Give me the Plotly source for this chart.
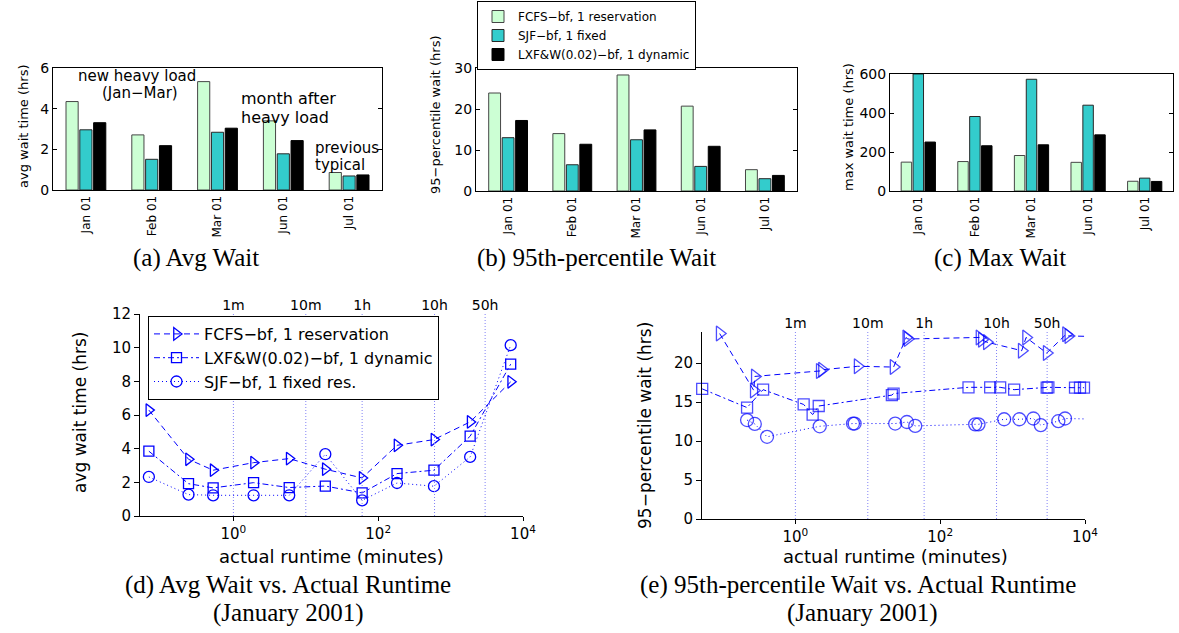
import plotly.graph_objects as go

W, H = 1179, 633

# ---------------- data ----------------
months = ["Jan 01", "Feb 01", "Mar 01", "Jun 01", "Jul 01"]
bar_names = ["FCFS\u2212bf, 1 reservation", "SJF\u2212bf, 1 fixed", "LXF&W(0.02)\u2212bf, 1 dynamic"]

avg_fcfs = [4.35, 2.71, 5.33, 3.40, 0.86]
avg_sjf = [2.96, 1.51, 2.84, 1.78, 0.69]
avg_lxf = [3.31, 2.18, 3.04, 2.43, 0.74]

p95_fcfs = [23.9, 14.0, 28.3, 20.7, 5.2]
p95_sjf = [13.0, 6.4, 12.5, 6.0, 3.0]
p95_lxf = [17.2, 11.4, 14.9, 10.9, 3.8]

max_fcfs = [148, 151, 182, 147, 50]
max_sjf = [600, 382, 573, 440, 66]
max_lxf = [251, 232, 237, 288, 49]

line_names = ["FCFS\u2212bf, 1 reservation", "LXF&W(0.02)\u2212bf, 1 dynamic", "SJF\u2212bf, 1 fixed res."]

# (d) avg wait vs actual runtime (minutes)
d_runtime = [0.068, 0.24, 0.525, 1.9, 5.9, 18.6, 60, 182, 589, 1862, 6760]
d_fcfs = [6.29, 3.37, 2.72, 3.17, 3.41, 2.78, 2.26, 4.20, 4.54, 5.59, 7.97]
d_lxf = [3.85, 1.92, 1.67, 1.98, 1.69, 1.78, 1.37, 2.52, 2.72, 4.74, 9.02]
d_sjf = [2.32, 1.27, 1.23, 1.23, 1.23, 3.67, 0.93, 1.96, 1.77, 3.51, 10.15]

# (e) 95th-percentile wait vs actual runtime (minutes)
e_fcfs_rt = [0.090, 0.266, 0.275, 2.17, 2.33, 7.24, 22.7, 34.0, 35.4, 349, 376, 441,
             1337, 1535, 2958, 5470, 5890]
e_fcfs = [23.8, 16.5, 18.3, 19.0, 19.15, 19.6, 19.5, 23.3, 23.1, 23.3, 23.0, 22.7,
          21.6, 23.3, 21.3, 23.7, 23.5]
e_lxf_rt = [0.0516, 0.215, 0.358, 1.30, 1.73, 2.10, 21.5, 22.7, 246, 490, 673, 1050,
            2958, 3119, 7278, 8531, 9683]
e_lxf = [16.7, 14.3, 16.6, 14.7, 13.4, 14.5, 15.9, 16.1, 16.9, 16.9, 16.9, 16.6,
         16.85, 16.9, 16.85, 16.85, 16.85]
e_sjf_rt = [0.215, 0.275, 0.406, 2.17, 6.24, 6.58, 23.9, 34.7, 45.2, 304, 338, 764,
            1242, 1936, 2449, 4285, 5297]
e_sjf = [12.7, 12.2, 10.55, 11.9, 12.25, 12.25, 12.25, 12.45, 11.95, 12.15, 12.15, 12.8,
         12.8, 12.9, 12.05, 12.55, 12.9]
# continuation of lines beyond the last visible marker (clipped at the axis edge)
e_tail_rt = 16000
e_fcfs_tail = 23.4
e_sjf_tail = 12.8

top_tick_vals = [1, 10, 60, 600, 3000]
top_tick_text = ["1m", "10m", "1h", "10h", "50h"]

D_YRANGE = [0, 12]
E_YRANGE = [0, 24]

# ---------------- styling ----------------
SANS = "DejaVu Sans"
SERIF = "Liberation Serif"
BLUE = "#0000ff"
GRID = "rgb(130,130,245)"
bar_colors = ["rgb(204,255,212)", "rgb(51,204,204)", "black"]
bar_lines = ["rgb(70,70,70)", "rgb(40,40,40)", "black"]


def dx(l, r):
    return [l / W, r / W]


def dy(top, bottom):
    return [1 - bottom / H, 1 - top / H]


fig = go.Figure()

bar_sets = [
    ("x", "y", [avg_fcfs, avg_sjf, avg_lxf]),
    ("x2", "y2", [p95_fcfs, p95_sjf, p95_lxf]),
    ("x3", "y3", [max_fcfs, max_sjf, max_lxf]),
]
for k, (xa, ya, vals) in enumerate(bar_sets):
    for i, v in enumerate(vals):
        fig.add_trace(go.Bar(
            x=months, y=v, name=bar_names[i], xaxis=xa, yaxis=ya,
            marker=dict(color=bar_colors[i], line=dict(color=bar_lines[i], width=1)),
            showlegend=(k == 1), legend="legend", offsetgroup=str(i),
        ))

# vertical dotted reference lines at 1m, 10m, 1h, 10h, 50h (on the top axes)
for xa, ya, yr in [("x6", "y4", D_YRANGE), ("x7", "y5", E_YRANGE)]:
    gx, gy = [], []
    for v in top_tick_vals:
        gx += [v, v, None]
        gy += [yr[0], yr[1], None]
    fig.add_trace(go.Scatter(
        x=gx, y=gy, xaxis=xa, yaxis=ya, mode="lines", showlegend=False, hoverinfo="skip",
        line=dict(color=GRID, width=1, dash="1px,2px"),
    ))

MS_D = [11, 10, 11]
MS_E = [13, 11, 13]
symbols = ["triangle-right-open", "square-open", "circle-open"]
dashes = ["6px,4px", "6px,3px,2px,3px", "1px,3px"]

d_series = [d_fcfs, d_lxf, d_sjf]
for i, ys in enumerate(d_series):
    fig.add_trace(go.Scatter(
        x=d_runtime, y=ys, name=line_names[i], xaxis="x4", yaxis="y4",
        mode="lines+markers", cliponaxis=False,
        line=dict(color=BLUE, width=1, dash=dashes[i]),
        marker=dict(symbol=symbols[i], size=MS_D[i], color=BLUE, line=dict(width=1.3, color=BLUE)),
        legend="legend2", showlegend=True,
    ))

e_series = [
    (e_fcfs_rt + [e_tail_rt], e_fcfs + [e_fcfs_tail], len(e_fcfs)),
    (e_lxf_rt, e_lxf, len(e_lxf)),
    (e_sjf_rt + [e_tail_rt], e_sjf + [e_sjf_tail], len(e_sjf)),
]
for i, (xs, ys, n) in enumerate(e_series):
    sizes = [MS_E[i]] * n + [0] * (len(xs) - n)
    fig.add_trace(go.Scatter(
        x=xs, y=ys, xaxis="x5", yaxis="y5", mode="lines+markers", cliponaxis=False,
        line=dict(color=BLUE, width=1, dash=dashes[i]),
        marker=dict(symbol=symbols[i], size=sizes, color=BLUE, line=dict(width=1.3, color=BLUE)),
        showlegend=False,
    ))

tickfont_bar = dict(family=SANS, size=14, color="black")
tickfont_line = dict(family=SANS, size=15, color="black")


def bar_x(dom, anchor):
    return dict(domain=dom, anchor=anchor, showline=True, linecolor="black", linewidth=1, mirror=True,
                ticks="", showgrid=False, tickangle=-90, range=[-0.5, 4.5],
                tickfont=dict(family=SANS, size=12, color="black"))


def bar_y(dom, rng, dt, anchor):
    return dict(domain=dom, range=rng, dtick=dt, showline=True, linecolor="black", linewidth=1,
                mirror="ticks", ticks="inside", ticklen=4, tickcolor="black", showgrid=False,
                zeroline=False, tickfont=tickfont_bar, anchor=anchor)


LOGR = [-1.29, 4.0]


def log_x(dom, anchor):
    return dict(domain=dom, anchor=anchor, type="log", range=LOGR, showline=True, linecolor="black",
                linewidth=1, mirror=False, ticks="outside", ticklen=4, tickcolor="black",
                tickvals=[1, 100, 10000], ticktext=["10<sup>0</sup>", "10<sup>2</sup>", "10<sup>4</sup>"],
                showgrid=False, zeroline=False, tickfont=tickfont_line)


def top_x(over, anchor):
    return dict(overlaying=over, anchor=anchor, side="top", type="log", range=LOGR,
                showline=False, ticks="", tickvals=top_tick_vals, ticktext=top_tick_text,
                showgrid=False, zeroline=False, tickfont=dict(family=SANS, size=14, color="black"))


def line_y(dom, rng, dt, anchor):
    return dict(domain=dom, anchor=anchor, range=rng, dtick=dt, showline=True, linecolor="black",
                linewidth=1, ticks="outside", ticklen=5, tickcolor="black", showgrid=False,
                zeroline=False, tickfont=tickfont_line)


fig.update_layout(
    width=W, height=H, autosize=False,
    margin=dict(l=0, r=0, t=0, b=0, autoexpand=False),
    paper_bgcolor="white", plot_bgcolor="white",
    barmode="group", bargap=0.37, bargroupgap=0.12,
    font=dict(family=SANS, color="black"),
    xaxis=bar_x(dx(53, 382), "y"),
    yaxis=bar_y(dy(68, 190), [0, 6], 2, "x"),
    xaxis2=bar_x(dx(476, 797), "y2"),
    yaxis2=bar_y(dy(68, 191), [0, 30], 10, "x2"),
    xaxis3=bar_x(dx(890, 1173), "y3"),
    yaxis3=bar_y(dy(74, 191), [0, 600], 200, "x3"),
    xaxis4=log_x(dx(140, 523), "y4"),
    yaxis4=line_y(dy(314, 516), D_YRANGE, 2, "x4"),
    xaxis5=log_x(dx(702, 1085), "y5"),
    yaxis5=line_y(dy(332, 519), E_YRANGE, 5, "x5"),
    xaxis6=top_x("x4", "y4"),
    xaxis7=top_x("x5", "y5"),
    legend=dict(x=477 / W, y=1 - 1 / H, xanchor="left", yanchor="top",
                bgcolor="white", bordercolor="black", borderwidth=1,
                font=dict(family=SANS, size=12, color="black"), itemwidth=30,
                tracegroupgap=0),
    legend2=dict(x=148 / W, y=1 - 316 / H, xanchor="left", yanchor="top",
                 bgcolor="white", bordercolor="black", borderwidth=1,
                 font=dict(family=SANS, size=16, color="black"), itemwidth=45,
                 tracegroupgap=0),
    showlegend=True,
)


def ann(text, x, y, size=15, angle=0, xanchor="center", family=SANS):
    fig.add_annotation(text=text, x=x / W, y=1 - y / H, xref="paper", yref="paper",
                       showarrow=False, textangle=angle, xanchor=xanchor, yanchor="middle",
                       font=dict(family=family, size=size, color="black"))


# panel (a) notes
ann("new heavy load", 137, 76, size=15)
ann("(Jan\u2212Mar)", 140, 93, size=15)
ann("month after", 239, 99, size=16, xanchor="left")
ann("heavy load", 239, 117, size=16, xanchor="left")
ann("previous", 313, 148, size=15, xanchor="left")
ann("typical", 313, 165, size=15, xanchor="left")

# axis titles
ann("avg wait time (hrs)", 23, 126, size=13, angle=-90)
ann("95\u2212percentile wait (hrs)", 435, 115, size=13, angle=-90)
ann("max wait time (hrs)", 848, 127, size=13, angle=-90)
ann("avg wait time (hrs)", 80, 413, size=17, angle=-90)
ann("95\u2212percentile wait (hrs)", 645, 425, size=17, angle=-90)
ann("actual runtime (minutes)", 331, 556, size=18)
ann("actual runtime (minutes)", 895, 556, size=18)

# captions
ann("(a) Avg Wait", 196, 258, size=25, family=SERIF)
ann("(b) 95th-percentile Wait", 596, 258, size=25, family=SERIF)
ann("(c) Max Wait", 1000, 258, size=25, family=SERIF)
ann("(d) Avg Wait vs. Actual Runtime", 288, 585, size=25, family=SERIF)
ann("(January 2001)", 288, 613, size=25, family=SERIF)
ann("(e) 95th-percentile Wait vs. Actual Runtime", 858, 585, size=25, family=SERIF)
ann("(January 2001)", 862, 613, size=25, family=SERIF)

fig.write_html("out.html", config={"displayModeBar": False},
               post_script="document.body.style.margin='0px';document.body.style.overflow='hidden';")
